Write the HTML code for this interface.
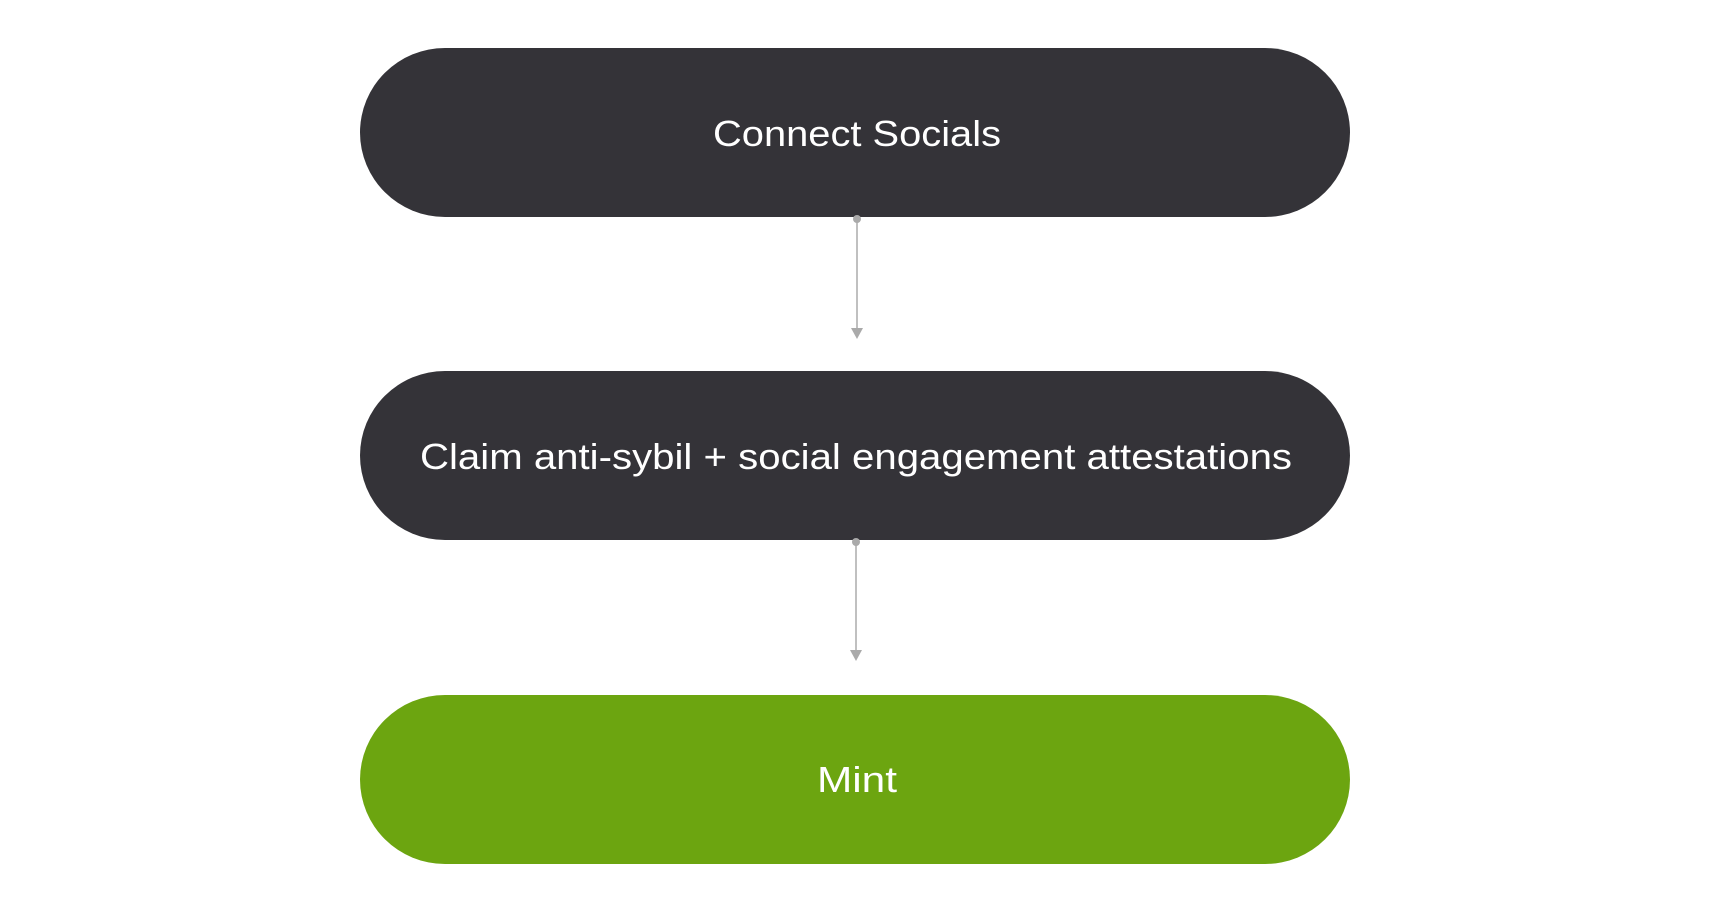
<!DOCTYPE html>
<html><head><meta charset="utf-8"><style>
html,body{margin:0;padding:0;background:#fff;}
svg{display:block;}
text{font-family:"Liberation Sans",sans-serif;font-size:36px;fill:#fff;}
</style></head><body>
<svg width="1714" height="912" viewBox="0 0 1714 912" xmlns="http://www.w3.org/2000/svg">
<rect x="0" y="0" width="1714" height="912" fill="#fff"/>
<rect x="360" y="48" width="990" height="169" rx="85" ry="85" fill="#343338"/>
<rect x="360" y="371" width="990" height="169" rx="85" ry="85" fill="#343338"/>
<rect x="360" y="695" width="990" height="169" rx="85" ry="85" fill="#6ca510"/>
<text x="857" y="146" text-anchor="middle" textLength="288" lengthAdjust="spacingAndGlyphs">Connect Socials</text>
<text x="856" y="469" text-anchor="middle" textLength="872" lengthAdjust="spacingAndGlyphs">Claim anti-sybil + social engagement attestations</text>
<text x="857" y="792" text-anchor="middle" textLength="80" lengthAdjust="spacingAndGlyphs">Mint</text>
<g stroke="#aaa" stroke-width="1.5" fill="#aaa">
<line x1="857" y1="219" x2="857" y2="330"/>
<circle cx="857" cy="219" r="4" stroke="none"/>
<path d="M851 328 L863 328 L857 339 Z" stroke="none"/>
<line x1="856" y1="542" x2="856" y2="651"/>
<circle cx="856" cy="542" r="4" stroke="none"/>
<path d="M850 650 L862 650 L856 661 Z" stroke="none"/>
</g>
</svg>
</body></html>
